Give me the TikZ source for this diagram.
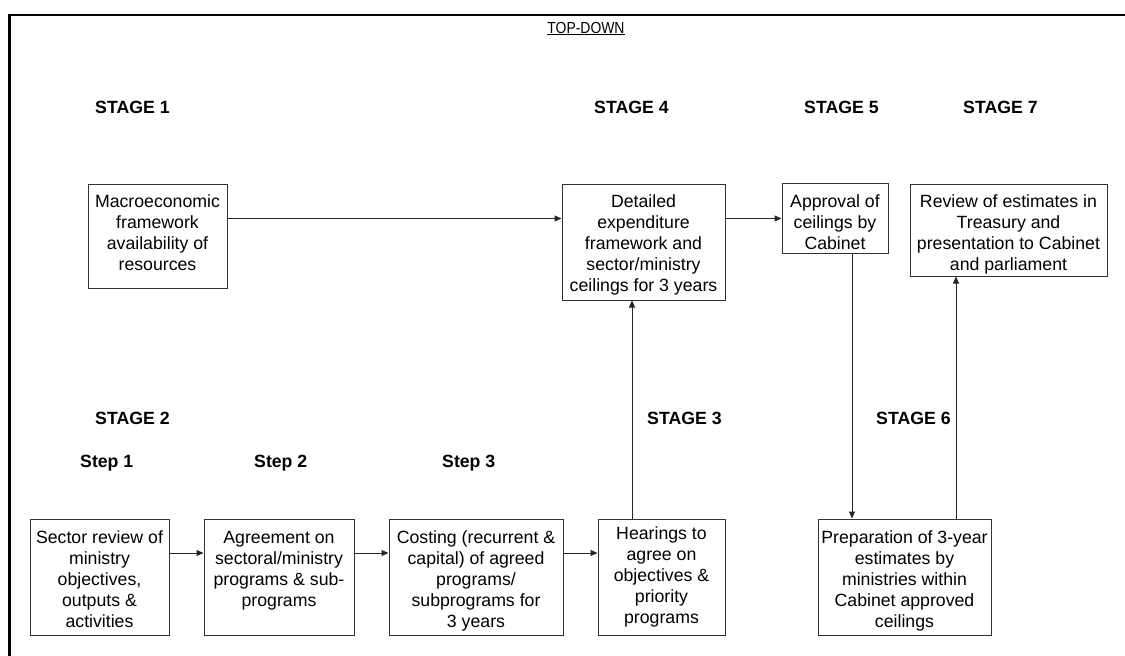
\documentclass[tikz,border=0pt]{standalone}
\usepackage{fontspec}
\setmainfont{Liberation Sans}
\usetikzlibrary{arrows.meta}
\tikzset{
  box/.style={draw=black!80, line width=1pt, inner sep=0pt, align=center,
    font=\fontsize{17.7}{21}\selectfont},
  arr/.style={draw=black!85, line width=1pt, -{Triangle[length=7pt,width=6pt]}},
  stagelbl/.style={anchor=base west, inner sep=0pt, font=\fontsize{17.7}{21}\selectfont\bfseries},
  frame/.style={line width=2.6pt}
}
% struts fixing the height above the first line and the depth below the last
\newcommand{\tp}[1]{\rule{0pt}{#1}}
\newcommand{\bt}[1]{\rule[-#1]{0pt}{#1}}
\begin{document}
\begin{tikzpicture}[x=1pt,y=-1pt]
\useasboundingbox (0,0) rectangle (1125,656);
% outer frame (top and left edges)
\draw[frame] (9.5,656) -- (9.5,15) -- (1125,15);
% title
\node[anchor=base, inner sep=0pt, font=\fontsize{16}{18}\selectfont] (title) at (586,33)
  {\scalebox{0.87}[1]{\underline{TOP-DOWN}}};

% stage and step labels
\node[stagelbl] (s1) at (95,113) {STAGE 1};
\node[stagelbl] (s4) at (594,113) {STAGE 4};
\node[stagelbl] (s5) at (804,113) {STAGE 5};
\node[stagelbl] (s7) at (963,113) {STAGE 7};
\node[stagelbl] (s2) at (95,424) {STAGE 2};
\node[stagelbl] (s3) at (647,424) {STAGE 3};
\node[stagelbl] (s6) at (876,424) {STAGE 6};
\node[stagelbl] (st1) at (80,467) {Step 1};
\node[stagelbl] (st2) at (254,467) {Step 2};
\node[stagelbl] (st3) at (442,467) {Step 3};

% upper row
\node[box, minimum width=139pt, minimum height=104pt] (macro) at (157.5,236)
  {\tp{16.9pt}Macroeconomic\\framework\\availability of\\resources\bt{11.1pt}};
\node[box, minimum width=163pt, minimum height=116pt] (detailed) at (643.5,242)
  {\tp{18.9pt}Detailed\\expenditure\\framework and\\sector/ministry\\ceilings for 3 years\bt{4.1pt}};
\node[box, minimum width=106pt, minimum height=69pt] (approval) at (835,218.5)
  {\tp{23.9pt}Approval of\\ceilings by\\Cabinet\bt{4.1pt}};
\node[box, minimum width=197pt, minimum height=92pt] (review) at (1008.5,230)
  {\tp{21.9pt}Review of estimates in\\Treasury and\\presentation to Cabinet\\and parliament\bt{4.1pt}};

% lower row
\node[box, minimum width=139pt, minimum height=116pt] (sector) at (99.5,577)
  {\tp{20.9pt}Sector review of\\ministry\\objectives,\\outputs \&\\activities\bt{4.1pt}};
\node[box, minimum width=150pt, minimum height=116pt] (agreement) at (279,577)
  {\tp{16.9pt}Agreement on\\sectoral/ministry\\programs \& sub-\\programs\bt{21.1pt}};
\node[box, minimum width=174pt, minimum height=116pt] (costing) at (476,577)
  {\tp{20.9pt}Costing (recurrent \&\\capital) of agreed\\programs/\\subprograms for\\3 years\bt{4.1pt}};
\node[box, minimum width=127pt, minimum height=116pt] (hearings) at (661.5,577)
  {\tp{16.9pt}Hearings to\\agree on\\objectives \&\\priority\\programs\bt{8.1pt}};
\node[box, minimum width=173pt, minimum height=116pt] (prep) at (904.5,577)
  {\tp{20.9pt}Preparation of 3-year\\estimates by\\ministries within\\Cabinet approved\\ceilings\bt{4.1pt}};

% connectors
\draw[arr] (macro.east |- approval.west) -- (detailed.west |- approval.west);
\draw[arr] (detailed.east |- approval.west) -- (approval.west);
\draw[arr] ([xshift=17pt]approval.south) -- ([xshift=17pt]approval.south |- prep.north);
\draw[arr] ([xshift=51.5pt]prep.north) -- ([xshift=51.5pt]prep.north |- review.south);
\draw[arr] ([xshift=-29.5pt]hearings.north) -- ([xshift=-29.5pt]hearings.north |- detailed.south);
\draw[arr] ([yshift=24pt]sector.east) -- ([yshift=24pt]sector.east -| agreement.west);
\draw[arr] ([yshift=24pt]agreement.east) -- ([yshift=24pt]agreement.east -| costing.west);
\draw[arr] ([yshift=24pt]costing.east) -- ([yshift=24pt]costing.east -| hearings.west);
\end{tikzpicture}
\end{document}
